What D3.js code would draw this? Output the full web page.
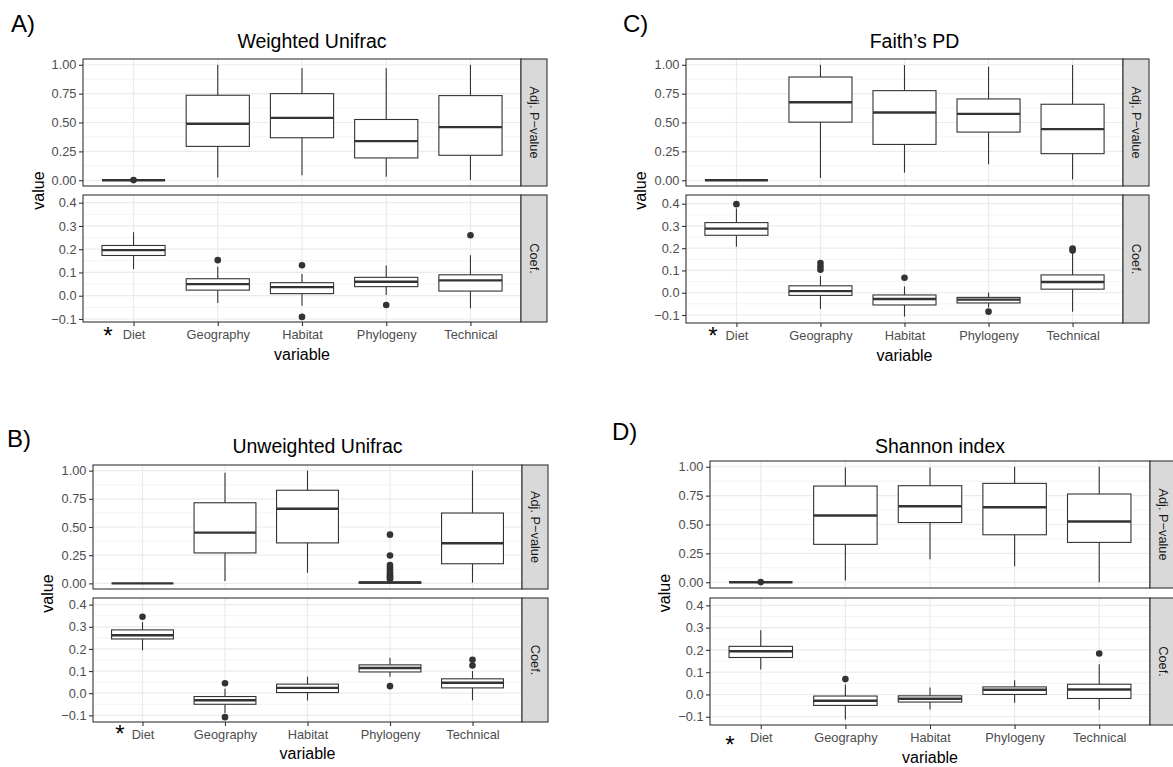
<!DOCTYPE html>
<html>
<head>
<meta charset="utf-8">
<script src="https://cdn.jsdelivr.net/npm/d3@7"></script>
<style>
  body { margin: 0; background: #fff; }
  svg { display: block; }
  text { font-family: "Liberation Sans", Arial, Helvetica, sans-serif; }
</style>
</head>
<body>
<div id="chart"></div>
<script>
const categories = ["Diet", "Geography", "Habitat", "Phylogeny", "Technical"];
const panelTags = ["A)", "B)", "C)", "D)"];
const panelTitles = ["Weighted Unifrac", "Unweighted Unifrac", "Faith\u2019s PD", "Shannon index"];
const facetLabels = ["Adj. P\u2212value", "Coef."];
const pTicks = [0, 0.25, 0.5, 0.75, 1];
const coefTicks = [-0.1, 0, 0.1, 0.2, 0.3, 0.4];

// box stats per category: [lower whisker, Q1, median, Q3, upper whisker]
const weightedP = [[0, 0, 0, 0, 0], [0.023, 0.293, 0.489, 0.736, 1.0], [0.043, 0.368, 0.54, 0.75, 0.97], [0.03, 0.193, 0.339, 0.526, 0.97], [0.003, 0.216, 0.46, 0.733, 1.0]];
const weightedPOut = [[0.001], [], [], [], []];
const weightedCoef = [[0.114, 0.173, 0.196, 0.216, 0.273], [-0.031, 0.024, 0.05, 0.073, 0.125], [-0.043, 0.009, 0.037, 0.056, 0.093], [0.003, 0.039, 0.06, 0.079, 0.13], [-0.054, 0.02, 0.066, 0.09, 0.174]];
const weightedCoefOut = [[], [0.153], [0.131, -0.091], [-0.04], [0.26]];

const unweightedP = [[0, 0, 0, 0, 0], [0.02, 0.27, 0.45, 0.715, 0.982], [0.094, 0.359, 0.662, 0.826, 1.0], [0, 0.002, 0.007, 0.012, 0.028], [0.006, 0.174, 0.356, 0.624, 1.0]];
const unweightedPOut = [[], [], [], [0.432, 0.247, 0.162, 0.14, 0.12, 0.1, 0.085, 0.07, 0.058, 0.047, 0.038], []];
const unweightedCoef = [[0.194, 0.245, 0.262, 0.286, 0.321], [-0.089, -0.05, -0.032, -0.015, 0.02], [-0.033, 0.003, 0.024, 0.041, 0.075], [0.074, 0.096, 0.114, 0.128, 0.16], [-0.032, 0.024, 0.047, 0.065, 0.1]];
const unweightedCoefOut = [[0.345], [0.045, -0.108], [], [0.032], [0.151, 0.125]];

const faithP = [[0, 0, 0, 0, 0], [0.02, 0.503, 0.675, 0.894, 1.0], [0.066, 0.31, 0.586, 0.776, 0.997], [0.138, 0.417, 0.575, 0.704, 0.983], [0.006, 0.23, 0.443, 0.658, 0.997]];
const faithPOut = [[], [], [], [], []];
const faithCoef = [[0.206, 0.258, 0.288, 0.315, 0.378], [-0.073, -0.012, 0.007, 0.031, 0.075], [-0.107, -0.055, -0.028, -0.01, 0.028], [-0.066, -0.046, -0.031, -0.021, 0.001], [-0.085, 0.016, 0.048, 0.08, 0.178]];
const faithCoefOut = [[0.398], [0.133, 0.118, 0.103], [0.067], [-0.085], [0.198, 0.19]];

const shannonP = [[0, 0, 0, 0, 0], [0.014, 0.328, 0.578, 0.833, 0.994], [0.2, 0.517, 0.658, 0.836, 0.994], [0.138, 0.411, 0.649, 0.856, 1.0], [0.0, 0.345, 0.526, 0.764, 1.0]];
const shannonPOut = [[0.001], [], [], [], []];
const shannonCoef = [[0.112, 0.166, 0.194, 0.216, 0.288], [-0.112, -0.049, -0.028, -0.007, 0.045], [-0.067, -0.034, -0.019, -0.006, 0.031], [-0.037, 0.0, 0.021, 0.034, 0.064], [-0.07, -0.018, 0.022, 0.046, 0.136]];
const shannonCoefOut = [[], [0.069], [], [], [0.184]];

// y ranges of the two facets (data range plus ggplot expansion)
const pDomain = [-0.05, 1.05];
const coefDomains = [[-0.113, 0.433], [-0.13, 0.43], [-0.136, 0.439], [-0.137, 0.433]];

const width = 1173, height = 767;
const font = "\"Liberation Sans\", Arial, sans-serif";
const stripW = 26;
const tickFont = 12.8;

// where each of the four figures sits on the page
const layouts = [
  {tagX: 11, tagY: 32, left: 83, right: 521, t1: 59, b1: 186, t2: 195, b2: 322, titleY: 48, varY: 360, valX: 44, starX: 108, starY: 344},
  {tagX: 7, tagY: 447, left: 93, right: 522, t1: 465, b1: 589, t2: 598, b2: 722, titleY: 453, varY: 759, valX: 53, starX: 120, starY: 742},
  {tagX: 623, tagY: 32, left: 686, right: 1123, t1: 59, b1: 186, t2: 195, b2: 323, titleY: 48, varY: 361, valX: 646, starX: 713, starY: 344},
  {tagX: 612, tagY: 440, left: 710, right: 1150, t1: 461, b1: 588, t2: 598, b2: 725, titleY: 453, varY: 763, valX: 670, starX: 730, starY: 753}
];

const figures = [
  [weightedP, weightedPOut, weightedCoef, weightedCoefOut],
  [unweightedP, unweightedPOut, unweightedCoef, unweightedCoefOut],
  [faithP, faithPOut, faithCoef, faithCoefOut],
  [shannonP, shannonPOut, shannonCoef, shannonCoefOut]
];

const svg = d3.select("#chart").append("svg")
  .attr("width", width)
  .attr("height", height);

const fmtP = d3.format(".2f");
const fmtC = v => d3.format(".1f")(v).replace("-", "\u2212");

function drawFacet(g, lay, x, y, ticks, fmt, stats, outs, top, bottom, stripText, minors) {
  // background grid
  g.append("g").selectAll("line")
    .data(minors)
    .join("line")
    .attr("x1", lay.left).attr("x2", lay.right)
    .attr("y1", d => y(d)).attr("y2", d => y(d))
    .attr("stroke", "#ebebeb").attr("stroke-width", 0.6);
  g.append("g").selectAll("line")
    .data(ticks)
    .join("line")
    .attr("x1", lay.left).attr("x2", lay.right)
    .attr("y1", d => y(d)).attr("y2", d => y(d))
    .attr("stroke", "#ebebeb").attr("stroke-width", 1.2);
  g.append("g").selectAll("line")
    .data(categories)
    .join("line")
    .attr("x1", d => x(d)).attr("x2", d => x(d))
    .attr("y1", top).attr("y2", bottom)
    .attr("stroke", "#ebebeb").attr("stroke-width", 1.2);

  // boxes
  const bw = x.step() * 0.75;
  const rows = categories.map((c, i) => ({cat: c, s: stats[i], o: outs[i]}));
  const boxes = g.append("g").selectAll("g").data(rows).join("g");
  boxes.append("line")
    .attr("x1", d => x(d.cat)).attr("x2", d => x(d.cat))
    .attr("y1", d => y(d.s[0])).attr("y2", d => y(d.s[1]))
    .attr("stroke", "#333").attr("stroke-width", 1.1);
  boxes.append("line")
    .attr("x1", d => x(d.cat)).attr("x2", d => x(d.cat))
    .attr("y1", d => y(d.s[3])).attr("y2", d => y(d.s[4]))
    .attr("stroke", "#333").attr("stroke-width", 1.1);
  boxes.append("rect")
    .attr("x", d => x(d.cat) - bw / 2)
    .attr("width", bw)
    .attr("y", d => y(d.s[3]))
    .attr("height", d => Math.max(0, y(d.s[1]) - y(d.s[3])))
    .attr("fill", "#fff")
    .attr("stroke", "#333").attr("stroke-width", 1.1);
  boxes.append("line")
    .attr("x1", d => x(d.cat) - bw / 2).attr("x2", d => x(d.cat) + bw / 2)
    .attr("y1", d => y(d.s[2])).attr("y2", d => y(d.s[2]))
    .attr("stroke", "#333").attr("stroke-width", 2.4);
  boxes.selectAll("circle")
    .data(d => d.o.map(v => ({cat: d.cat, v: v})))
    .join("circle")
    .attr("cx", d => x(d.cat))
    .attr("cy", d => y(d.v))
    .attr("r", 3.3)
    .attr("fill", "#333");

  // border
  g.append("rect")
    .attr("x", lay.left).attr("y", top)
    .attr("width", lay.right - lay.left).attr("height", bottom - top)
    .attr("fill", "none").attr("stroke", "#333").attr("stroke-width", 1.1);

  // strip
  g.append("rect")
    .attr("x", lay.right).attr("y", top)
    .attr("width", stripW).attr("height", bottom - top)
    .attr("fill", "#d9d9d9").attr("stroke", "#333").attr("stroke-width", 1.1);
  g.append("text")
    .attr("transform", `translate(${lay.right + stripW / 2},${(top + bottom) / 2}) rotate(90)`)
    .attr("text-anchor", "middle")
    .attr("dy", "0.35em")
    .attr("font-size", tickFont)
    .attr("fill", "#1a1a1a")
    .text(stripText);

  // y axis
  const axis = g.append("g")
    .attr("transform", `translate(${lay.left},0)`)
    .call(d3.axisLeft(y).tickValues(ticks).tickFormat(fmt).tickSize(4).tickPadding(2.5));
  axis.select(".domain").remove();
  axis.selectAll("line").attr("stroke", "#333").attr("stroke-width", 1.1);
  axis.selectAll("text")
    .attr("font-family", font)
    .attr("font-size", tickFont)
    .attr("fill", "#4d4d4d");
}

layouts.forEach((lay, k) => {
  const [pStats, pOut, cStats, cOut] = figures[k];
  const g = svg.append("g");

  const x = d3.scalePoint()
    .domain(categories)
    .range([lay.left, lay.right])
    .padding(0.6);
  const yP = d3.scaleLinear().domain(pDomain).range([lay.b1, lay.t1]);
  const yC = d3.scaleLinear().domain(coefDomains[k]).range([lay.b2, lay.t2]);

  drawFacet(g, lay, x, yP, pTicks, fmtP, pStats, pOut, lay.t1, lay.b1, facetLabels[0],
    [0.125, 0.375, 0.625, 0.875]);
  drawFacet(g, lay, x, yC, coefTicks, fmtC, cStats, cOut, lay.t2, lay.b2, facetLabels[1],
    [-0.05, 0.05, 0.15, 0.25, 0.35]);

  // x axis under the lower facet
  const xa = g.append("g")
    .attr("transform", `translate(0,${lay.b2})`)
    .call(d3.axisBottom(x).tickSize(4).tickPadding(4));
  xa.select(".domain").remove();
  xa.selectAll("line").attr("stroke", "#333").attr("stroke-width", 1.1);
  xa.selectAll("text")
    .attr("font-family", font)
    .attr("font-size", tickFont)
    .attr("fill", "#4d4d4d");

  // titles and labels
  g.append("text")
    .attr("x", lay.tagX).attr("y", lay.tagY)
    .attr("font-size", 24)
    .attr("fill", "#000")
    .text(panelTags[k]);
  g.append("text")
    .attr("x", (lay.left + lay.right + stripW) / 2 - 3).attr("y", lay.titleY)
    .attr("text-anchor", "middle")
    .attr("font-size", 19.5)
    .attr("fill", "#000")
    .text(panelTitles[k]);
  g.append("text")
    .attr("x", (lay.left + lay.right) / 2).attr("y", lay.varY)
    .attr("text-anchor", "middle")
    .attr("font-size", 16)
    .attr("fill", "#000")
    .text("variable");
  g.append("text")
    .attr("transform", `translate(${lay.valX},${(lay.b1 + lay.t2) / 2}) rotate(-90)`)
    .attr("text-anchor", "middle")
    .attr("font-size", 16)
    .attr("fill", "#000")
    .text("value");
  g.append("text")
    .attr("x", lay.starX).attr("y", lay.starY)
    .attr("text-anchor", "middle")
    .attr("font-size", 24)
    .attr("fill", "#000")
    .text("*");
});
</script>
</body>
</html>
